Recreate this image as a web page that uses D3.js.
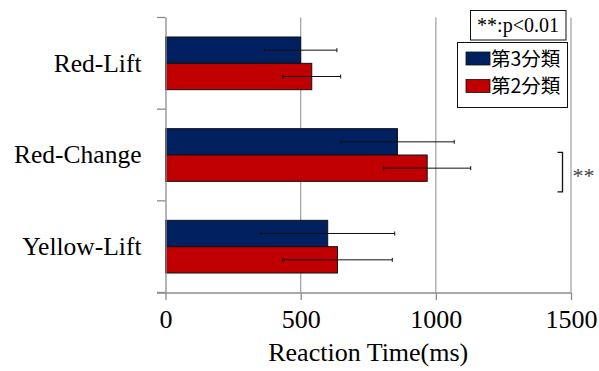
<!DOCTYPE html>
<html>
<head>
<meta charset="utf-8">
<script src="https://cdn.jsdelivr.net/npm/d3@7"></script>
<style>
  body { margin: 0; background: #fff; }
  svg { display: block; }
  .serif { font-family: "Liberation Serif", "Times New Roman", Tinos, serif; }
  .cjk { font-family: "Noto Sans CJK JP", "Noto Sans CJK SC", sans-serif; }
</style>
</head>
<body>
<svg width="599" height="371"></svg>
<script>
// data
var categories = ["Red-Lift", "Red-Change", "Yellow-Lift"];
var seriesNames = ["第3分類", "第2分類"];
var seriesColors = ["#002060", "#c00000"];
var means3 = [500, 858, 600];
var errs3 = [134, 210, 248];
var means2 = [541, 968, 636];
var errs2 = [107, 161, 203];
var xTicks = [0, 500, 1000, 1500];

var svg = d3.select("svg");
var margin = { top: 17.5, right: 28, bottom: 78.5, left: 165.5 };
var width = 599 - margin.left - margin.right;
var height = 371 - margin.top - margin.bottom;

var g = svg.append("g").attr("transform", "translate(" + margin.left + "," + margin.top + ")");

var xScale = d3.scaleLinear().domain([0, 1500]).range([0, width]);
var yScale = d3.scaleBand().domain(categories).range([0, height]);
var ySub = d3.scaleBand().domain(seriesNames).range([0, yScale.bandwidth()]).paddingOuter(0.74);

// gridlines
g.selectAll(".grid")
  .data(xTicks.slice(1))
  .enter().append("line")
  .attr("class", "grid")
  .attr("x1", function (d) { return xScale(d); })
  .attr("x2", function (d) { return xScale(d); })
  .attr("y1", 0)
  .attr("y2", height)
  .attr("stroke", "#a6a6a6")
  .attr("stroke-width", 1.3);

// bars + error bars
var rows = categories.map(function (c, i) {
  return [
    { cat: c, s: seriesNames[0], v: means3[i], e: errs3[i], color: seriesColors[0] },
    { cat: c, s: seriesNames[1], v: means2[i], e: errs2[i], color: seriesColors[1] }
  ];
});
var flat = [].concat.apply([], rows);

g.selectAll(".bar")
  .data(flat)
  .enter().append("rect")
  .attr("class", "bar")
  .attr("x", xScale(0))
  .attr("y", function (d) { return yScale(d.cat) + ySub(d.s); })
  .attr("width", function (d) { return xScale(d.v) - xScale(0); })
  .attr("height", ySub.bandwidth())
  .attr("fill", function (d) { return d.color; })
  .attr("stroke", "#111")
  .attr("stroke-width", 1);

var eb = g.selectAll(".err").data(flat).enter().append("g").attr("class", "err")
  .attr("stroke", "#111").attr("stroke-width", 1);
eb.append("line")
  .attr("x1", function (d) { return xScale(d.v - d.e); })
  .attr("x2", function (d) { return xScale(d.v + d.e); })
  .attr("y1", function (d) { return yScale(d.cat) + ySub(d.s) + ySub.bandwidth() / 2; })
  .attr("y2", function (d) { return yScale(d.cat) + ySub(d.s) + ySub.bandwidth() / 2; });
[-1, 1].forEach(function (sgn) {
  eb.append("line")
    .attr("x1", function (d) { return xScale(d.v + sgn * d.e); })
    .attr("x2", function (d) { return xScale(d.v + sgn * d.e); })
    .attr("y1", function (d) { return yScale(d.cat) + ySub(d.s) + ySub.bandwidth() / 2 - 2; })
    .attr("y2", function (d) { return yScale(d.cat) + ySub(d.s) + ySub.bandwidth() / 2 + 2; });
});

// x axis
var xAxis = g.append("g")
  .attr("transform", "translate(0," + height + ")")
  .call(d3.axisBottom(xScale).tickValues(xTicks).tickFormat(d3.format("d"))
    .tickSize(7.5).tickSizeOuter(0).tickPadding(10));
xAxis.select(".domain").attr("stroke", "#8c8c8c").attr("stroke-width", 1.3)
  .attr("d", "M-8.5,0.5H" + width);
xAxis.selectAll(".tick line").attr("stroke", "#8c8c8c").attr("stroke-width", 1.3);
xAxis.selectAll(".tick text")
  .attr("class", "serif").attr("font-family", null)
  .attr("font-size", 26).attr("fill", "#000");

// y axis
var yAxis = g.append("g")
  .call(d3.axisLeft(yScale).tickSize(0).tickPadding(24));
yAxis.select(".domain").attr("stroke", "#8c8c8c").attr("stroke-width", 1.3)
  .attr("d", "M0.5,0V" + height);
yAxis.selectAll(".tick text")
  .attr("class", "serif")
  .attr("font-size", 25.5).attr("fill", "#000");
yAxis.attr("font-family", null);
xAxis.attr("font-family", null);
// category boundary ticks
g.selectAll(".ytk")
  .data(categories.concat(["end"]))
  .enter().append("line")
  .attr("x1", -8.5).attr("x2", 0)
  .attr("y1", function (d, i) { return i * yScale.step(); })
  .attr("y2", function (d, i) { return i * yScale.step(); })
  .attr("stroke", "#8c8c8c").attr("stroke-width", 1.3);

// axis title
svg.append("text")
  .attr("class", "serif")
  .attr("x", margin.left + width / 2)
  .attr("y", 361)
  .attr("text-anchor", "middle")
  .attr("font-size", 26)
  .text("Reaction Time(ms)");

// significance note box
svg.append("rect")
  .attr("x", 470.5).attr("y", 10.5).attr("width", 95.5).attr("height", 29.5)
  .attr("fill", "#fff").attr("stroke", "#111").attr("stroke-width", 1);
svg.append("text")
  .attr("class", "serif")
  .attr("x", 518).attr("y", 32)
  .attr("text-anchor", "middle")
  .attr("font-size", 20)
  .text("**:p<0.01");

// legend
var legend = svg.append("g");
legend.append("rect")
  .attr("x", 457.5).attr("y", 42.5).attr("width", 110).attr("height", 65)
  .attr("fill", "#fff").attr("stroke", "#111").attr("stroke-width", 1);
var li = legend.selectAll(".li").data(seriesNames).enter().append("g")
  .attr("transform", function (d, i) { return "translate(466," + (52 + i * 27.5) + ")"; });
li.append("rect")
  .attr("width", 24).attr("height", 13)
  .attr("fill", function (d, i) { return seriesColors[i]; })
  .attr("stroke", "#111").attr("stroke-width", 0.8);
li.append("text")
  .attr("class", "cjk")
  .attr("x", 25).attr("y", 13.5)
  .attr("font-size", 19.5)
  .text(function (d) { return d; });

// significance bracket on Red-Change
var by1 = yScale("Red-Change") + ySub(seriesNames[0]) + ySub.bandwidth() * 0.9;
var by2 = yScale("Red-Change") + ySub(seriesNames[1]) + ySub.bandwidth() * 1.4;
var bx = 562.5 - margin.left;
g.append("path")
  .attr("d", "M" + (bx - 5) + "," + by1 + "H" + bx + "V" + by2 + "H" + (bx - 5))
  .attr("fill", "none").attr("stroke", "#111").attr("stroke-width", 1.3);
g.append("text")
  .attr("class", "serif")
  .attr("x", bx + 10).attr("y", (by1 + by2) / 2 + 11)
  .attr("font-size", 22).attr("fill", "#444")
  .text("**");
</script>
</body>
</html>
